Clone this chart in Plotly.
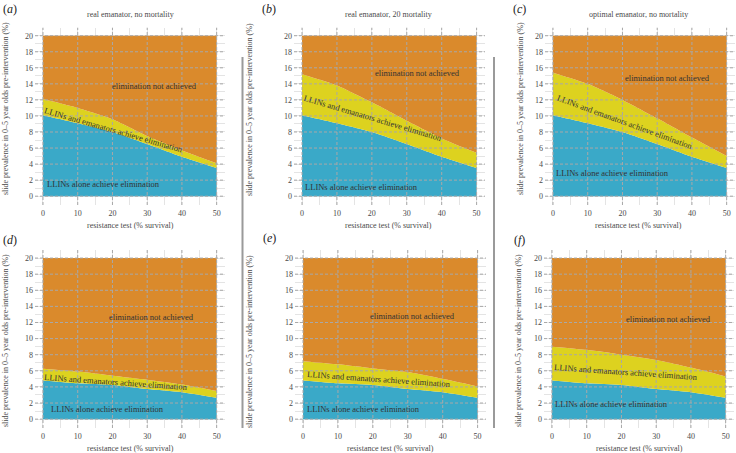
import plotly.graph_objects as go

# ---------------- data ----------------
resistance_survival = [0, 10, 20, 30, 40, 50]
x_ticks = [0, 10, 20, 30, 40, 50]
y_ticks = [0, 2, 4, 6, 8, 10, 12, 14, 16, 18, 20]
prevalence_max = 20

# LLINs alone achieve elimination (upper boundary)
llin_alone_top = [10.1, 9.1, 8.0, 6.5, 4.9, 3.5]
llin_alone_bottom = [4.8, 4.45, 4.25, 3.75, 3.35, 2.65]

# LLINs + emanators achieve elimination (upper boundary)
emanator_a = [12.1, 11.0, 9.6, 7.5, 5.7, 4.1]
emanator_b = [15.2, 13.8, 11.7, 9.4, 7.2, 5.4]
emanator_c = [15.4, 14.0, 12.0, 9.7, 7.3, 5.0]
emanator_d = [6.25, 5.9, 5.4, 4.9, 4.3, 3.5]
emanator_e = [7.2, 6.8, 6.3, 5.85, 5.0, 4.05]
emanator_f = [9.0, 8.6, 8.0, 7.35, 6.4, 5.3]

panel_letters = ["a", "b", "c", "d", "e", "f"]
panel_titles = ["real emanator, no mortality", "real emanator, 20 mortality",
                "optimal emanator, no mortality", "", "", ""]
region_labels = ["elimination not achieved",
                 "LLINs and emanators achieve elimination",
                 "LLINs alone achieve elimination"]

# ---------------- styling / layout ----------------
W, H = 736, 453
FONT = "Liberation Serif"
ORANGE = "#DA8A2C"
YELLOW = "#DDD21F"
BLUE = "#3AA9C8"
TXT = "#333333"
TICK = "#4a4a4a"

XR = [-2.3, 52.4]
YR = [-1.1, 21.0]

# pixel geometry of each panel's plotting area (x0, x1, ytop, ybottom)
geo = [
    (35, 225, 27.7, 205), (294, 485, 27.7, 205), (545, 735, 27.7, 205),
    (35, 225, 250, 428), (295, 486, 250, 428), (544, 734, 250, 428),
]

panels = [
    (llin_alone_top, emanator_a), (llin_alone_top, emanator_b), (llin_alone_top, emanator_c),
    (llin_alone_bottom, emanator_d), (llin_alone_bottom, emanator_e), (llin_alone_bottom, emanator_f),
]

# annotation placements (data coords) and angles
lab_not = [(32, 13.7), (33, 15.3), (33, 14.7), (31.3, 12.7), (31.3, 12.8), (33.6, 12.4)]
lab_both = [(20.4, 8.3, 16), (20.3, 9.7, 16.5), (20.7, 9.2, 20), (21, 4.6, 4), (21.8, 5.0, 4), (21.3, 5.8, 4)]
lab_alone = [(17.3, 1.5), (17.1, 1.2), (17, 2.9), (18.5, 1.2), (17.2, 1.2), (17, 1.9)]

fig = go.Figure()
layout = dict(width=W, height=H, margin=dict(l=0, r=0, t=0, b=0),
              paper_bgcolor="white", plot_bgcolor="white", showlegend=False,
              font=dict(family=FONT, size=8, color=TICK))
shapes, annotations = [], []

line_shape = dict(width=0, shape="spline", smoothing=0.6)


def pann(x, y, text, size=8, color=TICK, angle=0):
    return dict(x=x / W, y=1 - y / H, xref="paper", yref="paper", text=text,
                showarrow=False, xanchor="center", yanchor="middle", textangle=angle,
                font=dict(family=FONT, size=size, color=color))


for i, (llin, ema) in enumerate(panels):
    n = i + 1
    xa = "x" if n == 1 else f"x{n}"
    ya = "y" if n == 1 else f"y{n}"
    x0, x1, yt, yb = geo[i]
    top_vals = [prevalence_max for _ in resistance_survival]

    fig.add_trace(go.Scatter(x=resistance_survival, y=[0 for _ in resistance_survival],
                             mode="lines", line=dict(width=0), xaxis=xa, yaxis=ya,
                             hoverinfo="skip"))
    fig.add_trace(go.Scatter(x=resistance_survival, y=llin, mode="lines", line=line_shape,
                             fill="tonexty", fillcolor=BLUE, xaxis=xa, yaxis=ya))
    fig.add_trace(go.Scatter(x=resistance_survival, y=ema, mode="lines", line=line_shape,
                             fill="tonexty", fillcolor=YELLOW, xaxis=xa, yaxis=ya))
    fig.add_trace(go.Scatter(x=resistance_survival, y=top_vals, mode="lines",
                             line=dict(width=0), fill="tonexty", fillcolor=ORANGE,
                             xaxis=xa, yaxis=ya))

    axkey_x = "xaxis" if n == 1 else f"xaxis{n}"
    axkey_y = "yaxis" if n == 1 else f"yaxis{n}"
    layout[axkey_x] = dict(domain=[x0 / W, x1 / W], anchor=ya, range=XR,
                           tickvals=x_ticks, showgrid=False, zeroline=False,
                           showline=False, ticks="", ticklabelstandoff=2,
                           tickfont=dict(family=FONT, size=8, color=TICK),
                           minor=dict(dtick=5, tick0=0, showgrid=True,
                                      gridcolor="#e4e4e4", gridwidth=1))
    layout[axkey_y] = dict(domain=[1 - yb / H, 1 - yt / H], anchor=xa, range=YR,
                           tickvals=y_ticks, showgrid=False, zeroline=False,
                           showline=False, ticks="", ticklabelstandoff=1,
                           tickfont=dict(family=FONT, size=8, color=TICK),
                           minor=dict(dtick=1, tick0=0, showgrid=True,
                                      gridcolor="#e4e4e4", gridwidth=1))

    # dashed major grid drawn above the filled regions
    for xv in x_ticks:
        shapes.append(dict(type="line", xref=xa, yref=f"{ya} domain", x0=xv, x1=xv,
                           y0=0, y1=1, layer="above",
                           line=dict(color="#a8a8a8", width=1, dash="3px,2px")))
    for yv in y_ticks:
        shapes.append(dict(type="line", xref=f"{xa} domain", yref=ya, x0=0, x1=1,
                           y0=yv, y1=yv, layer="above",
                           line=dict(color="#a8a8a8", width=1, dash="3px,2px")))

    # region labels
    annotations.append(dict(x=lab_not[i][0], y=lab_not[i][1], xref=xa, yref=ya,
                            text=region_labels[0], showarrow=False,
                            xanchor="center", yanchor="middle",
                            font=dict(family=FONT, size=8.5, color=TXT)))
    annotations.append(dict(x=lab_both[i][0], y=lab_both[i][1], xref=xa, yref=ya,
                            text=region_labels[1], showarrow=False, textangle=lab_both[i][2],
                            xanchor="center", yanchor="middle",
                            font=dict(family=FONT, size=8.5, color=TXT)))
    annotations.append(dict(x=lab_alone[i][0], y=lab_alone[i][1], xref=xa, yref=ya,
                            text=region_labels[2], showarrow=False,
                            xanchor="center", yanchor="middle",
                            font=dict(family=FONT, size=8.5, color=TXT)))

    # axis titles
    row_top = i < 3
    ytitle_x = [5, 249, 520, 5, 249, 518][i]
    ytitle_y = 109 if row_top else 341
    annotations.append(pann(ytitle_x, ytitle_y,
                            "slide prevalence in 0–5 year olds pre-intervention (%)",
                            angle=-90))
    xtitle_x = [130, 388, 638, 130, 390, 639][i]
    xtitle_y = 225 if row_top else 448
    annotations.append(pann(xtitle_x, xtitle_y, "resistance test (% survival)"))
    if panel_titles[i]:
        annotations.append(pann(xtitle_x, 15, panel_titles[i]))
    # panel letter
    lx = [10, 269, 519, 10, 269, 519][i]
    ly = [9, 9, 9, 240, 238, 240][i]
    annotations.append(pann(lx, ly, f"(<i>{panel_letters[i]}</i>)", size=12, color="#222"))

# vertical separators between columns
for sx in (242.5, 494):
    shapes.append(dict(type="line", xref="paper", yref="paper", x0=sx / W, x1=sx / W,
                       y0=1 - 428 / H, y1=1 - 57 / H,
                       line=dict(color="#9a9a9a", width=2)))

layout["shapes"] = shapes
layout["annotations"] = annotations
fig.update_layout(**layout)
fig.write_html("out.html", config={"displayModeBar": False},
               post_script="document.body.style.margin='0';document.body.style.padding='0';")
